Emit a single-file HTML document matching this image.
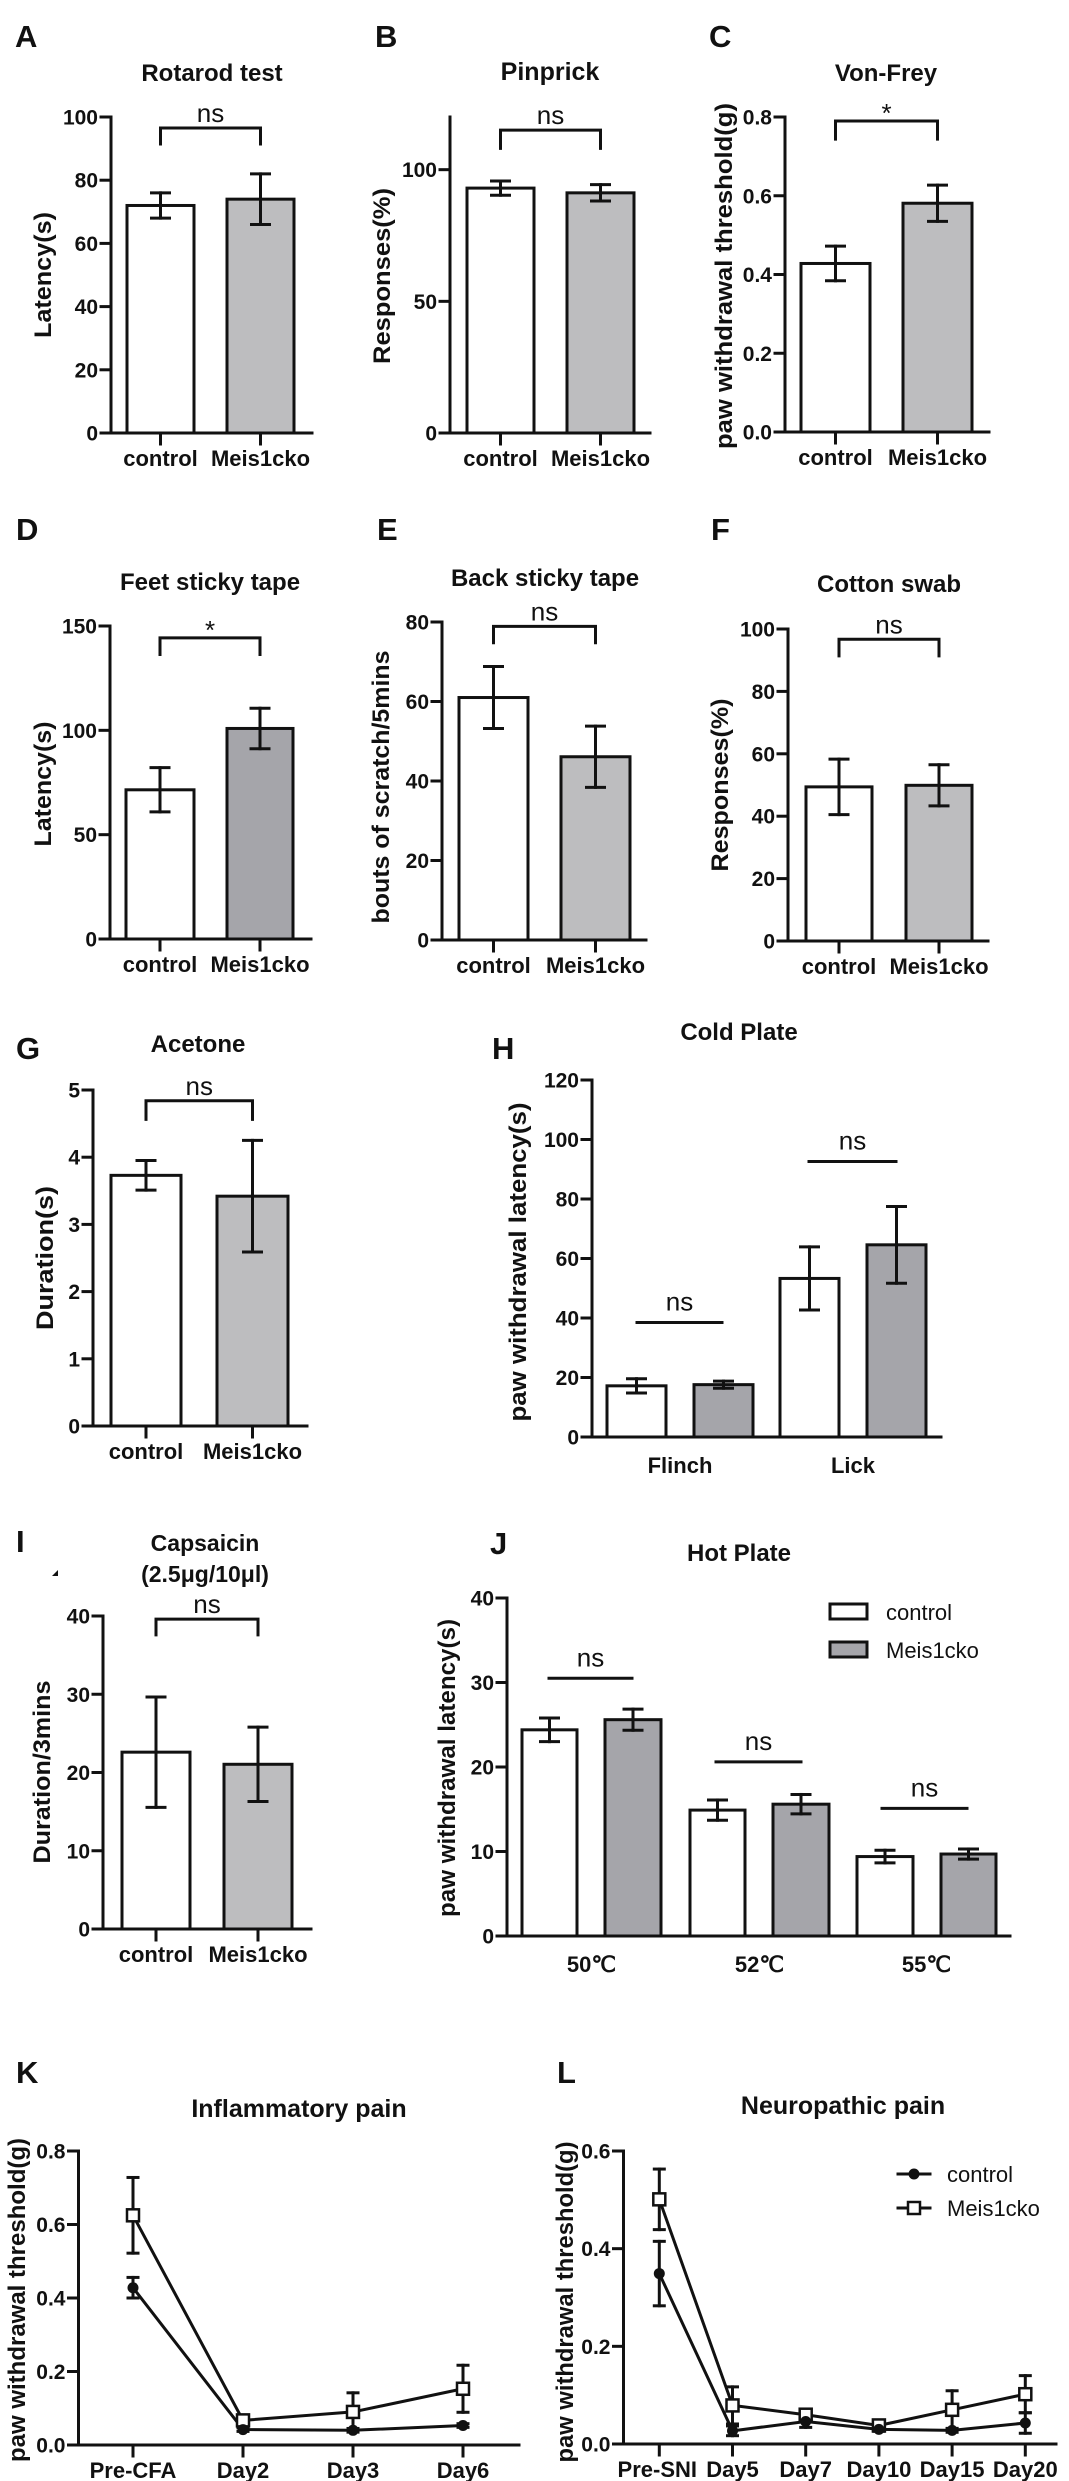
<!DOCTYPE html>
<html><head><meta charset="utf-8"><title>Meis1cko behavioral tests</title>
<style>
html,body{margin:0;padding:0;background:#fff;}
svg{display:block;font-family:"Liberation Sans",Arial,sans-serif;}
.b{font-weight:bold;}
</style></head>
<body>
<svg id="fig" xmlns="http://www.w3.org/2000/svg" width="1069" height="2481" viewBox="0 0 1069 2481">
<rect x="0" y="0" width="1069" height="2481" fill="#fff"/>
</svg>
<script>
// ---------- data ----------
const simpleCats = ['control', 'Meis1cko'];
const aVals = [72, 74];      const aErrs = [4, 8];       const aTicks = [0, 20, 40, 60, 80, 100];
const bVals = [93, 91.2];    const bErrs = [2.7, 3.1];   const bTicks = [0, 50, 100];
const cVals = [0.428, 0.581]; const cErrs = [0.044, 0.046]; const cTicks = [0, 0.2, 0.4, 0.6, 0.8];
const dVals = [71.5, 100.9]; const dErrs = [10.6, 9.7];  const dTicks = [0, 50, 100, 150];
const eVals = [61, 46.1];    const eErrs = [7.8, 7.7];   const eTicks = [0, 20, 40, 60, 80];
const fVals = [49.4, 49.9];  const fErrs = [8.9, 6.6];   const fTicks = [0, 20, 40, 60, 80, 100];
const gVals = [3.73, 3.42];  const gErrs = [0.22, 0.83]; const gTicks = [0, 1, 2, 3, 4, 5];
const iVals = [22.6, 21.05]; const iErrs = [7.05, 4.75]; const iTicks = [0, 10, 20, 30, 40];
const hCats = ['Flinch', 'Lick'];
const hCtrl = [17.2, 53.3];  const hCtrlErr = [2.4, 10.6];
const hMeis = [17.6, 64.6];  const hMeisErr = [1.2, 12.9];
const hNs = [38.5, 92.6];    const hTicks = [0, 20, 40, 60, 80, 100, 120];
const jCats = ['50℃', '52℃', '55℃'];
const jCtrl = [24.4, 14.9, 9.4]; const jCtrlErr = [1.4, 1.2, 0.75];
const jMeis = [25.6, 15.6, 9.7]; const jMeisErr = [1.25, 1.15, 0.6];
const jNs = [30.5, 20.6, 15.1];  const jTicks = [0, 10, 20, 30, 40];
const kCats = ['Pre-CFA', 'Day2', 'Day3', 'Day6'];
const kCtrl = [0.428, 0.042, 0.040, 0.053]; const kCtrlErr = [0.028, 0.005, 0.005, 0.005];
const kMeis = [0.625, 0.067, 0.090, 0.153]; const kMeisErr = [0.103, 0.008, 0.052, 0.064];
const kTicks = [0, 0.2, 0.4, 0.6, 0.8];
const lCats = ['Pre-SNI', 'Day5', 'Day7', 'Day10', 'Day15', 'Day20'];
const lCtrl = [0.349, 0.027, 0.046, 0.030, 0.028, 0.043]; const lCtrlErr = [0.066, 0.010, 0.012, 0.004, 0.004, 0.021];
const lMeis = [0.501, 0.079, 0.060, 0.038, 0.070, 0.102]; const lMeisErr = [0.062, 0.038, 0.010, 0.005, 0.039, 0.038];
const lTicks = [0, 0.2, 0.4, 0.6];

// ---------- helpers ----------
const NS = 'http://www.w3.org/2000/svg';
const svg = document.getElementById('fig');
function add(parent, tag, name, attrs, text) {
  const e = document.createElementNS(NS, tag);
  for (const k in attrs) e.setAttribute(k, attrs[k]);
  
  
  if (text !== undefined) e.textContent = text;
  parent.appendChild(e);
  return e;
}
const LIGHT = '#bdbdbf', DARK = '#a5a5aa';
function line(g, name, x1, y1, x2, y2, w) {
  return add(g, 'line', name, {x1: x1, y1: y1, x2: x2, y2: y2, stroke: '#111', 'stroke-width': w || 3, 'stroke-linecap': 'square'});
}
function fmt(t, dec) { return dec ? t.toFixed(dec) : String(t); }

function frame(g, c) {
  c.y = v => c.y0 - v / c.topVal * (c.y0 - c.yTop);
  line(g, 'y-axis', c.axisX, c.axisTop !== undefined ? c.axisTop : c.yTop, c.axisX, c.y0);
  line(g, 'x-axis', c.axisX - 10, c.y0, c.baseEnd, c.y0);
  c.ticks.forEach(t => {
    const yy = c.y(t);
    line(g, 'y-tick', c.axisX - 10, yy, c.axisX, yy);
    add(g, 'text', 'y-tick-label', {x: c.axisX - 13, y: yy + 7.5, 'text-anchor': 'end', 'font-size': 21, class: 'b', fill: '#111'}, fmt(t, c.dec));
  });
  add(g, 'text', 'panel-letter', {x: c.letter[1], y: c.letter[2], 'font-size': 31, class: 'b', fill: '#111'}, c.letter[0]);
  c.title.forEach((t, i) => {
    add(g, 'text', 'chart-title', {x: c.titleX, y: c.titleY + i * 31, 'text-anchor': 'middle', 'font-size': c.titleSize || 24, class: 'b', fill: '#111'}, t);
  });
  add(g, 'text', 'y-axis-title', {x: c.ylab[0], y: c.ylab[1], 'text-anchor': 'middle', 'font-size': 24, class: 'b', fill: '#111',
    textLength: c.ylab[3], lengthAdjust: 'spacingAndGlyphs', transform: 'rotate(-90 ' + c.ylab[0] + ' ' + c.ylab[1] + ')'}, c.ylab[2]);
}

function bar(g, name, x0, x1, v, e, fill, c) {
  const yv = c.y(v);
  add(g, 'rect', name, {x: x0, y: yv, width: x1 - x0, height: c.y0 - yv, fill: fill, stroke: '#111', 'stroke-width': 3});
  const xm = (x0 + x1) / 2;
  line(g, name + '-error', xm, c.y(v + e), xm, c.y(v - e));
  line(g, name + '-error-cap', xm - 9, c.y(v + e), xm + 9, c.y(v + e));
  line(g, name + '-error-cap', xm - 9, c.y(v - e), xm + 9, c.y(v - e));
}

function simplePanel(c, vals, errs) {
  const g = add(svg, 'g', c.name, {});
  frame(g, c);
  const fills = ['#fff', c.gray];
  vals.forEach((v, i) => bar(g, 'bar-' + simpleCats[i].toLowerCase(), c.bars[i][0], c.bars[i][1], v, errs[i], fills[i], c));
  const cx = c.bars.map(b => (b[0] + b[1]) / 2);
  cx.forEach((x, i) => {
    line(g, 'x-tick', x, c.y0, x, c.y0 + 11);
    add(g, 'text', 'x-tick-label', {x: x, y: c.y0 + 33, 'text-anchor': 'middle', 'font-size': 22, class: 'b', fill: '#111'}, simpleCats[i]);
  });
  const by = c.y(c.bracket[0]), bd = c.y(c.bracket[1]);
  add(g, 'polyline', 'significance-bracket', {points: cx[0] + ',' + bd + ' ' + cx[0] + ',' + by + ' ' + cx[1] + ',' + by + ' ' + cx[1] + ',' + bd, fill: 'none', stroke: '#111', 'stroke-width': 3});
  const mid = (cx[0] + cx[1]) / 2;
  if (c.sig === '*') add(g, 'text', 'significance-star', {x: mid, y: by + 1, 'text-anchor': 'middle', 'font-size': 26, fill: '#111'}, '*');
  else add(g, 'text', 'significance-label', {x: mid, y: by - 6, 'text-anchor': 'middle', 'font-size': 26, fill: '#111'}, 'ns');
}

function groupedPanel(c, cats, ctrl, ctrlErr, meis, meisErr, ns) {
  const g = add(svg, 'g', c.name, {});
  frame(g, c);
  cats.forEach((cat, i) => {
    const b0 = c.bars[2 * i], b1 = c.bars[2 * i + 1];
    bar(g, 'bar-control', b0[0], b0[1], ctrl[i], ctrlErr[i], '#fff', c);
    bar(g, 'bar-meis1cko', b1[0], b1[1], meis[i], meisErr[i], c.gray, c);
    const cx = (b0[0] + b1[1]) / 2;
    add(g, 'text', 'x-tick-label', {x: cx, y: c.y0 + 36, 'text-anchor': 'middle', 'font-size': 22, class: 'b', fill: '#111'}, cat);
    const ny = c.y(ns[i]);
    line(g, 'ns-line', c.nsX[i][0], ny, c.nsX[i][1], ny);
    add(g, 'text', 'significance-label', {x: (c.nsX[i][0] + c.nsX[i][1]) / 2, y: ny - 12, 'text-anchor': 'middle', 'font-size': 26, fill: '#111'}, 'ns');
  });
  return g;
}

// ---------- row 1 ----------
simplePanel({name: 'panel-a-rotarod', axisX: 111, yTop: 117, y0: 433, topVal: 100, baseEnd: 312, ticks: aTicks,
  bars: [[127, 194], [227, 294]], gray: LIGHT, bracket: [96.5, 91], sig: 'ns',
  letter: ['A', 15, 47], title: ['Rotarod test'], titleX: 212, titleY: 81, ylab: [51, 275, 'Latency(s)', 126]}, aVals, aErrs);
simplePanel({name: 'panel-b-pinprick', axisX: 450, yTop: 117, y0: 433, topVal: 120, baseEnd: 650, ticks: bTicks,
  bars: [[467, 534], [567, 634]], gray: LIGHT, bracket: [115, 107.5], sig: 'ns',
  letter: ['B', 375, 47], title: ['Pinprick'], titleX: 550, titleY: 80, titleSize: 25, ylab: [390, 276, 'Responses(%)', 176]}, bVals, bErrs);
simplePanel({name: 'panel-c-vonfrey', axisX: 785, yTop: 117, y0: 432, topVal: 0.8, dec: 1, baseEnd: 989, ticks: cTicks,
  bars: [[801, 870], [903, 972]], gray: LIGHT, bracket: [0.79, 0.74], sig: '*',
  letter: ['C', 709, 47], title: ['Von-Frey'], titleX: 886, titleY: 81, ylab: [732, 276, 'paw withdrawal threshold(g)', 346]}, cVals, cErrs);

// ---------- row 2 ----------
simplePanel({name: 'panel-d-feet-tape', axisX: 110, yTop: 626, y0: 939, topVal: 150, baseEnd: 311, ticks: dTicks,
  bars: [[126, 194], [227, 293]], gray: DARK, bracket: [144.3, 135.6], sig: '*',
  letter: ['D', 16, 540], title: ['Feet sticky tape'], titleX: 210, titleY: 590, ylab: [51, 784, 'Latency(s)', 125]}, dVals, dErrs);
simplePanel({name: 'panel-e-back-tape', axisX: 442, yTop: 622, y0: 940, topVal: 80, baseEnd: 646, ticks: eTicks,
  bars: [[459, 528], [561, 630]], gray: LIGHT, bracket: [78.9, 74.4], sig: 'ns',
  letter: ['E', 377, 540], title: ['Back sticky tape'], titleX: 545, titleY: 586, ylab: [389, 787, 'bouts of scratch/5mins', 273]}, eVals, eErrs);
simplePanel({name: 'panel-f-cotton-swab', axisX: 788, yTop: 629, y0: 941, topVal: 100, baseEnd: 988, ticks: fTicks,
  bars: [[806, 872], [906, 972]], gray: LIGHT, bracket: [96.7, 90.9], sig: 'ns',
  letter: ['F', 711, 540], title: ['Cotton swab'], titleX: 889, titleY: 592, ylab: [728, 785, 'Responses(%)', 173]}, fVals, fErrs);

// ---------- row 3 ----------
simplePanel({name: 'panel-g-acetone', axisX: 93, yTop: 1090, y0: 1426, topVal: 5, baseEnd: 307, ticks: gTicks,
  bars: [[111, 181], [217, 288]], gray: LIGHT, bracket: [4.84, 4.54], sig: 'ns',
  letter: ['G', 16, 1059], title: ['Acetone'], titleX: 198, titleY: 1052, ylab: [53, 1258, 'Duration(s)', 144]}, gVals, gErrs);
groupedPanel({name: 'panel-h-cold-plate', axisX: 592, yTop: 1080, y0: 1437, topVal: 120, baseEnd: 941, ticks: hTicks,
  bars: [[607, 666], [694, 753], [780, 839], [867, 926]], gray: DARK, nsX: [[637, 722], [809, 896]],
  letter: ['H', 492, 1059], title: ['Cold Plate'], titleX: 739, titleY: 1040, ylab: [526, 1262, 'paw withdrawal latency(s)', 319]},
  hCats, hCtrl, hCtrlErr, hMeis, hMeisErr, hNs);

// ---------- row 4 ----------
simplePanel({name: 'panel-i-capsaicin', axisX: 103, yTop: 1616, y0: 1929, topVal: 40, baseEnd: 311, ticks: iTicks,
  bars: [[122, 190], [224, 292]], gray: LIGHT, bracket: [39.6, 37.4], sig: 'ns',
  letter: ['I', 16, 1552], title: ['Capsaicin', '(2.5μg/10μl)'], titleX: 205, titleY: 1551, titleSize: 23, ylab: [50, 1772, 'Duration/3mins', 183]}, iVals, iErrs);
add(svg, 'path', 'stray-mark', {d: 'M52 1576 L58 1570 L58 1576 Z', fill: '#111'});
const gJ = groupedPanel({name: 'panel-j-hot-plate', axisX: 507, yTop: 1598, y0: 1936, topVal: 40, baseEnd: 1010, ticks: jTicks,
  bars: [[522, 577], [605, 661], [690, 745], [773, 829], [857, 913], [941, 996]], gray: DARK, nsX: [[549, 632], [716, 801], [882, 967]],
  letter: ['J', 490, 1554], title: ['Hot Plate'], titleX: 739, titleY: 1561, ylab: [455, 1768, 'paw withdrawal latency(s)', 298]},
  jCats, jCtrl, jCtrlErr, jMeis, jMeisErr, jNs);
add(gJ, 'rect', 'legend-swatch-control', {x: 830, y: 1604, width: 37, height: 15, fill: '#fff', stroke: '#111', 'stroke-width': 3});
add(gJ, 'text', 'legend-label-control', {x: 886, y: 1620, 'font-size': 22, fill: '#111'}, 'control');
add(gJ, 'rect', 'legend-swatch-meis1cko', {x: 830, y: 1642, width: 37, height: 15, fill: DARK, stroke: '#111', 'stroke-width': 3});
add(gJ, 'text', 'legend-label-meis1cko', {x: 886, y: 1658, 'font-size': 22, fill: '#111'}, 'Meis1cko');

// ---------- line charts ----------
function linePanel(c, cats, ctrl, ctrlErr, meis, meisErr) {
  const g = add(svg, 'g', c.name, {});
  c.dec = 1;
  frame(g, c);
  const x = i => c.x0 + i * c.dx;
  cats.forEach((cat, i) => {
    line(g, 'x-tick', x(i), c.y0, x(i), c.y0 + 11);
    add(g, 'text', 'x-tick-label', {x: x(i) + (c.labelShift ? c.labelShift[i] : 0), y: c.y0 + 33, 'text-anchor': 'middle', 'font-size': 22, class: 'b', fill: '#111'}, cat);
  });
  [[meis, meisErr, 'meis1cko'], [ctrl, ctrlErr, 'control']].forEach(s => {
    const pts = s[0].map((v, i) => x(i) + ',' + c.y(v)).join(' ');
    add(g, 'polyline', 'series-line-' + s[2], {points: pts, fill: 'none', stroke: '#111', 'stroke-width': 3});
    s[0].forEach((v, i) => {
      const e = s[1][i];
      line(g, 'error-bar-' + s[2], x(i), c.y(v + e), x(i), c.y(v - e));
      line(g, 'error-cap-' + s[2], x(i) - 5, c.y(v + e), x(i) + 5, c.y(v + e));
      line(g, 'error-cap-' + s[2], x(i) - 5, c.y(v - e), x(i) + 5, c.y(v - e));
    });
  });
  meis.forEach((v, i) => add(g, 'rect', 'point-meis1cko', {x: x(i) - 6, y: c.y(v) - 6, width: 12, height: 12, fill: '#fff', stroke: '#111', 'stroke-width': 2.5}));
  ctrl.forEach((v, i) => add(g, 'circle', 'point-control', {cx: x(i), cy: c.y(v), r: 5.5, fill: '#111'}));
  return g;
}
linePanel({name: 'panel-k-inflammatory', axisX: 78.5, yTop: 2151, y0: 2445, topVal: 0.8, baseEnd: 519, ticks: kTicks,
  x0: 133, dx: 110, letter: ['K', 16, 2083], title: ['Inflammatory pain'], titleX: 299, titleY: 2117, titleSize: 25,
  ylab: [25, 2300, 'paw withdrawal threshold(g)', 324]}, kCats, kCtrl, kCtrlErr, kMeis, kMeisErr);
const gL = linePanel({name: 'panel-l-neuropathic', axisX: 623.5, yTop: 2151, y0: 2444, topVal: 0.6, baseEnd: 1056, ticks: lTicks,
  x0: 659.3, dx: 73.2, labelShift: [-2, 0, 0, 0, 0, 0], letter: ['L', 557, 2083], title: ['Neuropathic pain'], titleX: 843, titleY: 2114, titleSize: 25,
  ylab: [573, 2302, 'paw withdrawal threshold(g)', 321]}, lCats, lCtrl, lCtrlErr, lMeis, lMeisErr);
line(gL, 'legend-line-control', 898, 2174, 930, 2174);
add(gL, 'circle', 'legend-marker-control', {cx: 914, cy: 2174, r: 5.5, fill: '#111'});
add(gL, 'text', 'legend-label-control', {x: 947, y: 2182, 'font-size': 22, fill: '#111'}, 'control');
line(gL, 'legend-line-meis1cko', 898, 2208, 930, 2208);
add(gL, 'rect', 'legend-marker-meis1cko', {x: 908, y: 2202, width: 12, height: 12, fill: '#fff', stroke: '#111', 'stroke-width': 2.5});
add(gL, 'text', 'legend-label-meis1cko', {x: 947, y: 2216, 'font-size': 22, fill: '#111'}, 'Meis1cko');
</script>
</body></html>
